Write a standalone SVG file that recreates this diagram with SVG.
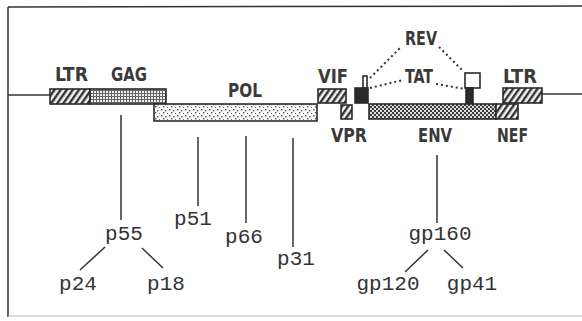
<svg xmlns="http://www.w3.org/2000/svg" width="582" height="321" viewBox="0 0 582 321">
<style>
.box{stroke:#2a2a2a;stroke-width:1.6}
.gene{font-family:"DejaVu Sans Condensed","Liberation Sans Narrow",sans-serif;font-weight:bold;font-size:19px;fill:#3a3a3a}
.prot{font-family:"Liberation Mono","DejaVu Sans Mono",monospace;font-size:21px;fill:#333}
.ln{stroke:#333;stroke-width:1.5;fill:none}
.dot{stroke:#333;stroke-width:2;stroke-dasharray:2 3;fill:none}
.frame{stroke:#333;stroke-width:1.5;fill:none}
</style>
<defs>
<pattern id="hatch" width="5" height="5" patternUnits="userSpaceOnUse" patternTransform="rotate(35)">
<rect width="5" height="5" fill="#f2f2f2"/>
<rect width="2.4" height="5" fill="#333"/>
</pattern>
<pattern id="grid" width="3" height="3" patternUnits="userSpaceOnUse">
<rect width="3" height="3" fill="#eee"/>
<rect width="3" height="1" fill="#666"/>
<rect width="1" height="3" fill="#666"/>
</pattern>
<pattern id="stip" width="8" height="6" patternUnits="userSpaceOnUse">
<rect width="8" height="6" fill="#fafafa"/>
<rect x="1" y="1" width="1.4" height="1.4" fill="#555"/>
<rect x="5" y="2" width="1.4" height="1.4" fill="#555"/>
<rect x="3" y="4" width="1.4" height="1.4" fill="#555"/>
<rect x="7" y="5" width="1" height="1" fill="#777"/>
</pattern>
<pattern id="check" width="4" height="4" patternUnits="userSpaceOnUse">
<rect width="4" height="4" fill="#ddd"/>
<rect x="0" y="0" width="2" height="2" fill="#3a3a3a"/>
<rect x="2" y="2" width="2" height="2" fill="#3a3a3a"/>
</pattern>
</defs>
<rect width="582" height="321" fill="#fff"/>
<g id="frame">
<line class="frame" x1="8" y1="7" x2="582" y2="6"/>
<line class="frame" x1="8" y1="7" x2="8" y2="317"/>
<line x1="8" y1="316" x2="582" y2="316" stroke="#bbb" stroke-width="1"/>
</g>
<g id="connectors">
<line class="ln" x1="8" y1="95" x2="50" y2="95"/>
<line class="ln" x1="542" y1="94" x2="582" y2="94"/>
<line class="ln" x1="121" y1="115" x2="121" y2="220"/>
<line class="ln" x1="105" y1="247" x2="80" y2="270"/>
<line class="ln" x1="142" y1="248" x2="163" y2="268"/>
<line class="ln" x1="198" y1="137" x2="198" y2="206"/>
<line class="ln" x1="246" y1="136" x2="246" y2="223"/>
<line class="ln" x1="293" y1="138" x2="293" y2="247"/>
<line class="ln" x1="437" y1="155" x2="437" y2="223"/>
<line class="ln" x1="428" y1="250" x2="405" y2="272"/>
<line class="ln" x1="444" y1="250" x2="463" y2="268"/>
<line class="dot" x1="370" y1="78" x2="401" y2="47"/>
<line class="dot" x1="439" y1="47" x2="463" y2="71"/>
<line class="dot" x1="370" y1="88" x2="403" y2="80"/>
<line class="dot" x1="436" y1="84" x2="465" y2="89"/>
</g>
<g id="ltr5">
<rect class="box" x="50" y="89" width="40" height="15" fill="url(#hatch)"/>
<text class="gene" x="55" y="81" textLength="33" lengthAdjust="spacingAndGlyphs">LTR</text>
</g>
<g id="gag">
<rect class="box" x="90" y="89" width="76" height="15" fill="url(#grid)"/>
<text class="gene" x="111" y="81" textLength="36" lengthAdjust="spacingAndGlyphs">GAG</text>
</g>
<g id="pol">
<rect class="box" x="154" y="104" width="163" height="17" fill="url(#stip)"/>
<text class="gene" x="228" y="97" textLength="34" lengthAdjust="spacingAndGlyphs">POL</text>
</g>
<g id="vif">
<rect class="box" x="318" y="89" width="28" height="14" fill="url(#hatch)"/>
<text class="gene" x="318" y="83" textLength="30" lengthAdjust="spacingAndGlyphs">VIF</text>
</g>
<g id="vpr">
<rect class="box" x="341" y="105" width="11" height="14" fill="url(#hatch)"/>
<text class="gene" x="331" y="142" textLength="36" lengthAdjust="spacingAndGlyphs">VPR</text>
</g>
<g id="tat1">
<rect class="box" x="363" y="76" width="4" height="12" fill="#fff"/>
<rect class="box" x="355" y="88" width="13" height="15" fill="#2a2a2a"/>
</g>
<g id="rev">
<text class="gene" x="405" y="45" textLength="32" lengthAdjust="spacingAndGlyphs">REV</text>
</g>
<g id="tat">
<text class="gene" x="405" y="83" textLength="28" lengthAdjust="spacingAndGlyphs">TAT</text>
</g>
<g id="tat2">
<rect class="box" x="465" y="73" width="15" height="15" fill="#fff"/>
<rect class="box" x="466" y="88" width="7" height="16" fill="#2a2a2a"/>
</g>
<g id="env">
<rect class="box" x="369" y="104" width="127" height="15" fill="url(#check)"/>
<text class="gene" x="418" y="142" textLength="34" lengthAdjust="spacingAndGlyphs">ENV</text>
</g>
<g id="nef">
<rect class="box" x="496" y="104" width="22" height="15" fill="url(#hatch)"/>
<text class="gene" x="497" y="142" textLength="31" lengthAdjust="spacingAndGlyphs">NEF</text>
</g>
<g id="ltr3">
<rect class="box" x="503" y="88" width="39" height="15" fill="url(#hatch)"/>
<text class="gene" x="503" y="83" textLength="34" lengthAdjust="spacingAndGlyphs">LTR</text>
</g>
<g id="p55"><text class="prot" x="124" y="240" text-anchor="middle">p55</text></g>
<g id="p24"><text class="prot" x="78" y="290" text-anchor="middle">p24</text></g>
<g id="p18"><text class="prot" x="166" y="290" text-anchor="middle">p18</text></g>
<g id="p51"><text class="prot" x="193" y="225" text-anchor="middle">p51</text></g>
<g id="p66"><text class="prot" x="244" y="243" text-anchor="middle">p66</text></g>
<g id="p31"><text class="prot" x="296" y="265" text-anchor="middle">p31</text></g>
<g id="gp160"><text class="prot" x="440" y="240" text-anchor="middle">gp160</text></g>
<g id="gp120"><text class="prot" x="388" y="290" text-anchor="middle">gp120</text></g>
<g id="gp41"><text class="prot" x="472" y="290" text-anchor="middle">gp41</text></g>
</svg>
